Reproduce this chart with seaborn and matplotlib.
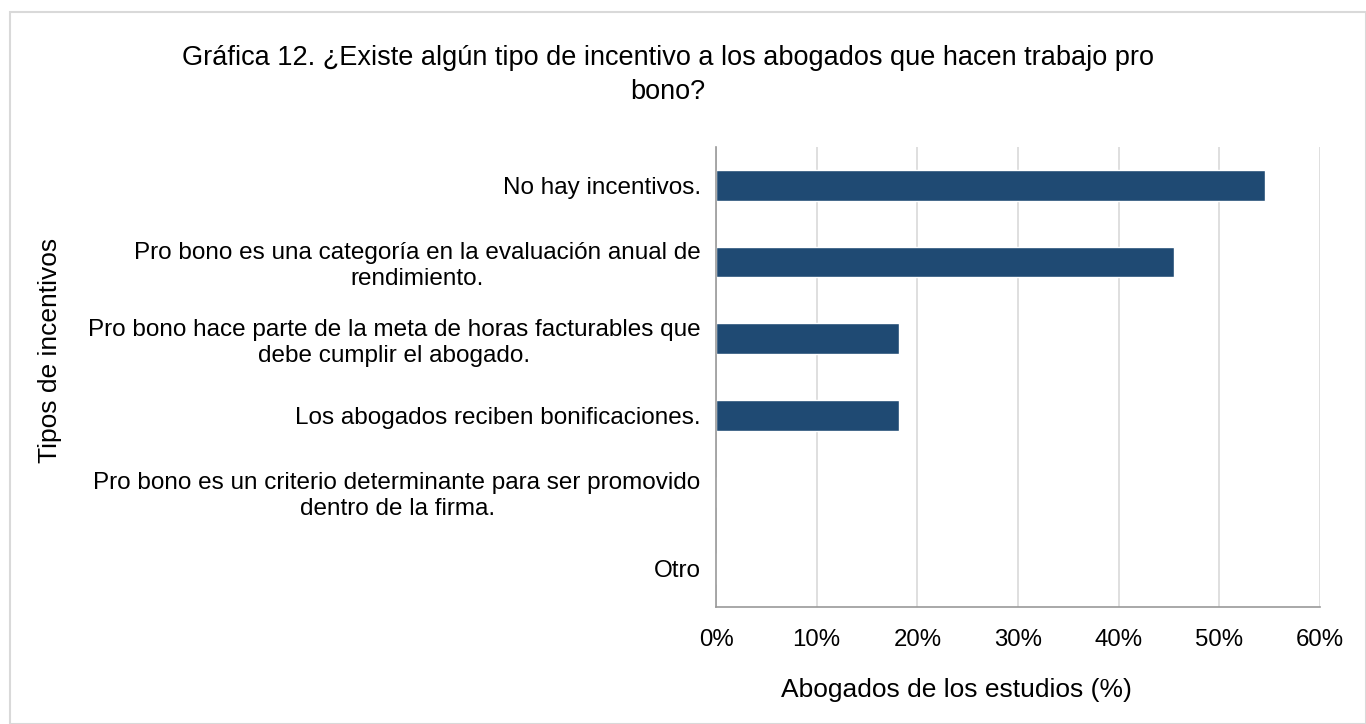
import numpy as np
import pandas as pd
import matplotlib
matplotlib.use("Agg")
import matplotlib.pyplot as plt
from matplotlib.patches import Rectangle
from matplotlib.ticker import PercentFormatter
import seaborn as sns

# Data
categorias = [
    "No hay incentivos.",
    "Pro bono es una categoría en la evaluación anual de\nrendimiento.",
    "Pro bono hace parte de la meta de horas facturables que\ndebe cumplir el abogado.",
    "Los abogados reciben bonificaciones.",
    "Pro bono es un criterio determinante para ser promovido\ndentro de la firma.",
    "Otro",
]
porcentajes = [54.5, 45.5, 18.2, 18.2, 0.0, 0.0]

titulo = "Gráfica 12. ¿Existe algún tipo de incentivo a los abogados que hacen trabajo pro\nbono?"
eje_x = "Abogados de los estudios (%)"
eje_y = "Tipos de incentivos"

sns.set_theme(style="white")
plt.rcParams['font.family'] = ['Liberation Sans', 'DejaVu Sans']
plt.rcParams['text.color'] = 'black'
plt.rcParams['xtick.labelcolor'] = 'black'
plt.rcParams['ytick.labelcolor'] = 'black'

df = pd.DataFrame({"categoria": categorias, "valor": porcentajes})

fig = plt.figure(figsize=(13.66, 7.24), dpi=100)
ax = fig.add_axes([716 / 1366, 1 - 607 / 724, 604 / 1366, 460 / 724])

sns.barplot(data=df, x="valor", y="categoria", ax=ax, color="#1F4A73",
            width=0.4, saturation=1)

ax.set_xlim(0, 60)
ax.set_xticks(np.arange(0, 61, 10))
ax.xaxis.set_major_formatter(PercentFormatter(decimals=0))
ax.grid(axis="x", color="#D9D9D9", linewidth=1.2)
ax.set_axisbelow(True)

for side in ["top", "right"]:
    ax.spines[side].set_visible(False)
for side in ["left", "bottom"]:
    ax.spines[side].set_color("#9A9A9A")
    ax.spines[side].set_linewidth(1.2)

ax.tick_params(axis="x", length=6, color="#9A9A9A", labelsize=17.3, pad=10)
ax.tick_params(axis="y", length=0, labelsize=17.5, pad=11)
for lbl in ax.get_yticklabels():
    lbl.set_multialignment("center")

ax.set_xlabel(eje_x, fontsize=19, color="black")
ax.xaxis.set_label_coords((956 - 716) / 604, -(678 - 607) / 460)
ax.set_ylabel("")
fig.text(50 / 1366, 1 - 350 / 724, eje_y, rotation=90, fontsize=19,
         ha="center", va="center")

fig.text(668 / 1366, 1 - 75 / 724, titulo, fontsize=19.5, ha="center",
         va="center", linespacing=1.4)

# chart area border
fig.patches.append(Rectangle((10 / 1366, 0), 1 - 10 / 1366, 1 - 12 / 724,
                             transform=fig.transFigure, fill=False,
                             edgecolor="#D9D9D9", linewidth=1.5))

plt.savefig("out.png", dpi=100)
